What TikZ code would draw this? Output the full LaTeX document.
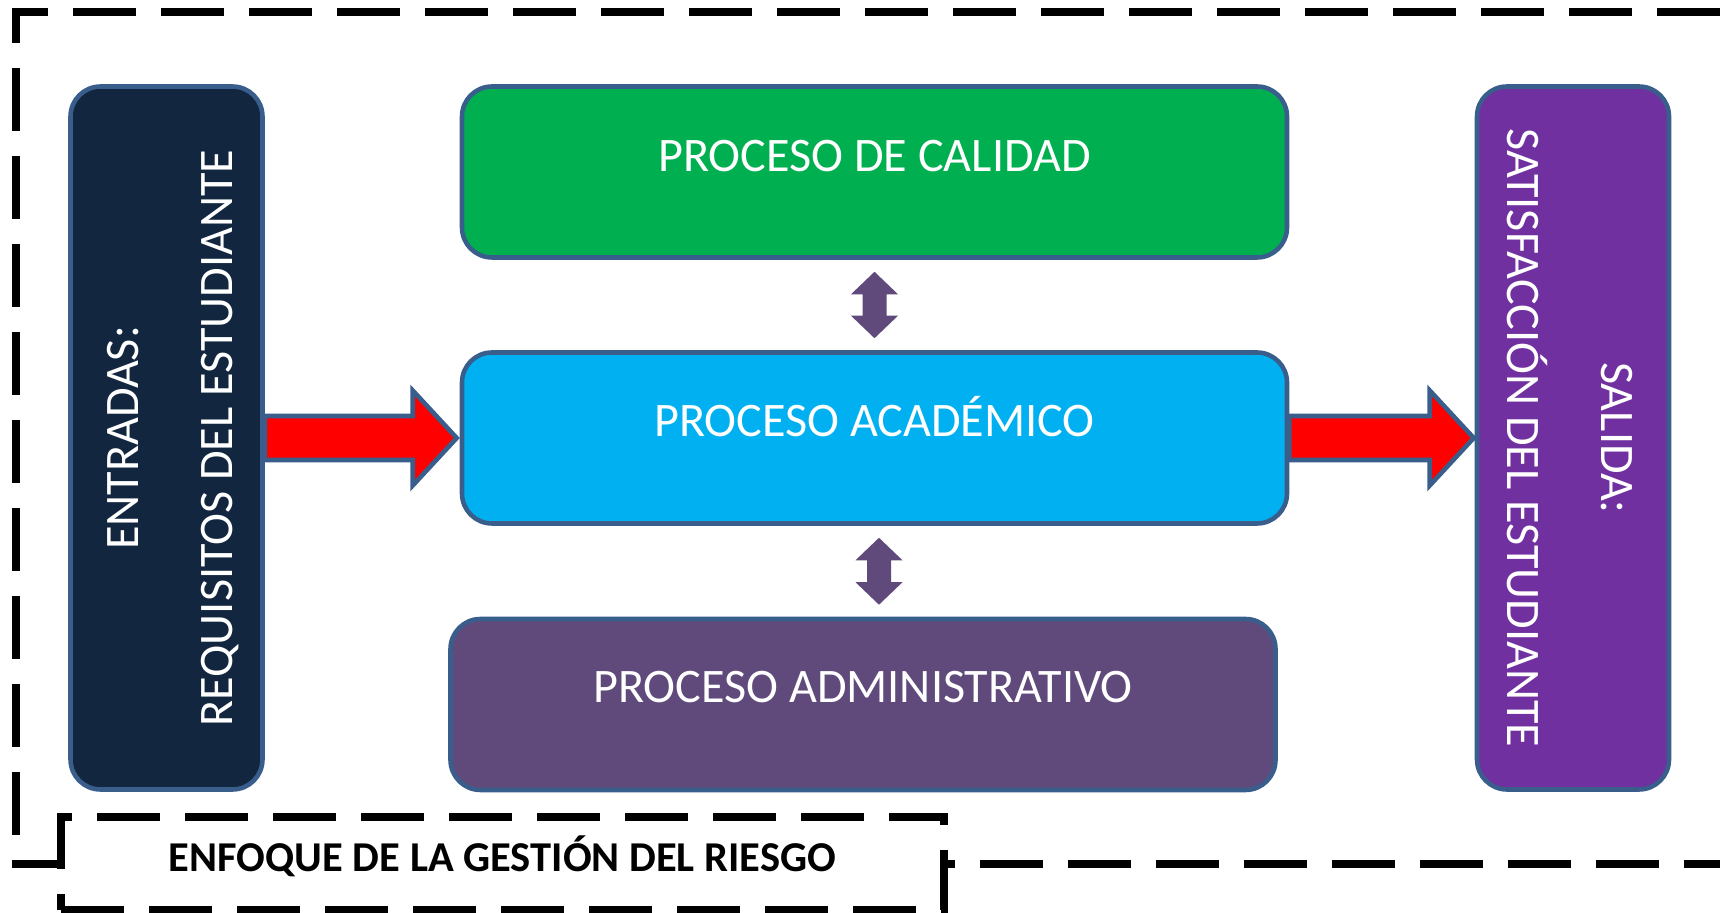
\documentclass[tikz,border=0pt]{standalone}
\usepackage{fontspec}
\setmainfont{Carlito}
\usetikzlibrary{calc}
\definecolor{entcol}{HTML}{132640}
\definecolor{calcol}{HTML}{00B050}
\definecolor{acacol}{HTML}{00B0F0}
\definecolor{admcol}{HTML}{604A7B}
\definecolor{salcol}{HTML}{7030A0}
\definecolor{edgecol}{HTML}{3A5E8C}
\tikzset{
  procbox/.style={draw=edgecol, line width=1.3pt, rounded corners=0.3cm, inner sep=0pt,
    minimum width=8.25cm, minimum height=1.71cm},
  sidebox/.style={procbox, minimum width=1.92cm, minimum height=7.03cm},
  boxtext/.style={text=white, font=\fontsize{13.7}{16}\selectfont, inner sep=0pt,
    text height=8.8pt, text depth=0pt},
  fatarrow/.style={draw=edgecol, line width=1.3pt, fill=red},
  dblarrow/.style={fill=admcol},
  riskline/.style={line width=2.3pt, dash pattern=on 0.63cm off 0.25cm},
  riskbox/.style={riskline, draw, fill=white, inner sep=0pt, minimum width=8.83cm,
    minimum height=0.93cm, text height=7.8pt, text depth=3pt,
    font=\fontsize{12.1}{15}\selectfont\bfseries}
}
\begin{document}
\begin{tikzpicture}
  \useasboundingbox (0,0) rectangle (17.2,-9.13);
  \draw[riskline] (17.2,-0.12) -- (0.16,-0.12) -- (0.16,-8.64) -- (17.2,-8.64);

  \node[sidebox, fill=entcol] (ent) at (1.665,-4.38) {};
  \node[procbox, fill=calcol] (cal) at (8.745,-1.72) {};
  \node[procbox, fill=acacol] (acad) at (8.745,-4.38) {};
  \node[procbox, fill=admcol] (adm) at (8.63,-7.045) {};
  \node[sidebox, fill=salcol] (sal) at (15.73,-4.38) {};

  \node[boxtext] (calt) at ([yshift=0.16cm]cal.center) {PROCESO DE CALIDAD};
  \node[boxtext] (acadt) at ([yshift=0.17cm]acad.center) {PROCESO ACADÉMICO};
  \node[boxtext] (admt) at ([yshift=0.17cm]adm.center) {PROCESO ADMINISTRATIVO};
  \node[boxtext, rotate=90] (entt) at ([xshift=-0.435cm]ent.center) {ENTRADAS:};
  \node[boxtext, rotate=90] (reqt) at ([xshift=0.505cm]ent.center) {REQUISITOS DEL ESTUDIANTE};
  \node[boxtext, rotate=-90] (satt) at ([xshift=-0.50cm]sal.center) {SATISFACCIÓN DEL ESTUDIANTE};
  \node[boxtext, rotate=-90] (salt) at ([xshift=0.44cm]sal.center) {SALIDA:};

  \draw[fatarrow] ($(ent.east)+(0,0.22)$) -- ($(acad.west)+(-0.47,0.22)$) -- ++(0,0.255)
    -- ($(acad.west)+(-0.03,0)$) -- ($(acad.west)+(-0.47,-0.475)$) -- ++(0,0.255)
    -- ($(ent.east)+(0,-0.22)$) -- cycle;
  \draw[fatarrow] ($(acad.east)+(0,0.22)$) -- ($(sal.west)+(-0.45,0.22)$) -- ++(0,0.255)
    -- ($(sal.west)+(-0.01,0)$) -- ($(sal.west)+(-0.45,-0.475)$) -- ++(0,0.255)
    -- ($(acad.east)+(0,-0.22)$) -- cycle;

  \foreach \a/\b/\dx in {cal/acad/0, acad/adm/0.045}
    \fill[dblarrow] ($(\a.south)+(\dx,-0.12)$) -- ++(0.235,-0.225) -- ++(-0.115,0)
      -- ($(\a.south |- \b.north)+(\dx+0.12,0.345)$) -- ++(0.115,0) -- ++(-0.235,-0.225)
      -- ++(-0.235,0.225) -- ++(0.115,0) -- ($(\a.south)+(\dx-0.12,-0.345)$)
      -- ++(-0.115,0) -- cycle;

  \node[riskbox] (risk) at (5.025,-8.635) {ENFOQUE DE LA GESTIÓN DEL RIESGO};
\end{tikzpicture}
\end{document}
